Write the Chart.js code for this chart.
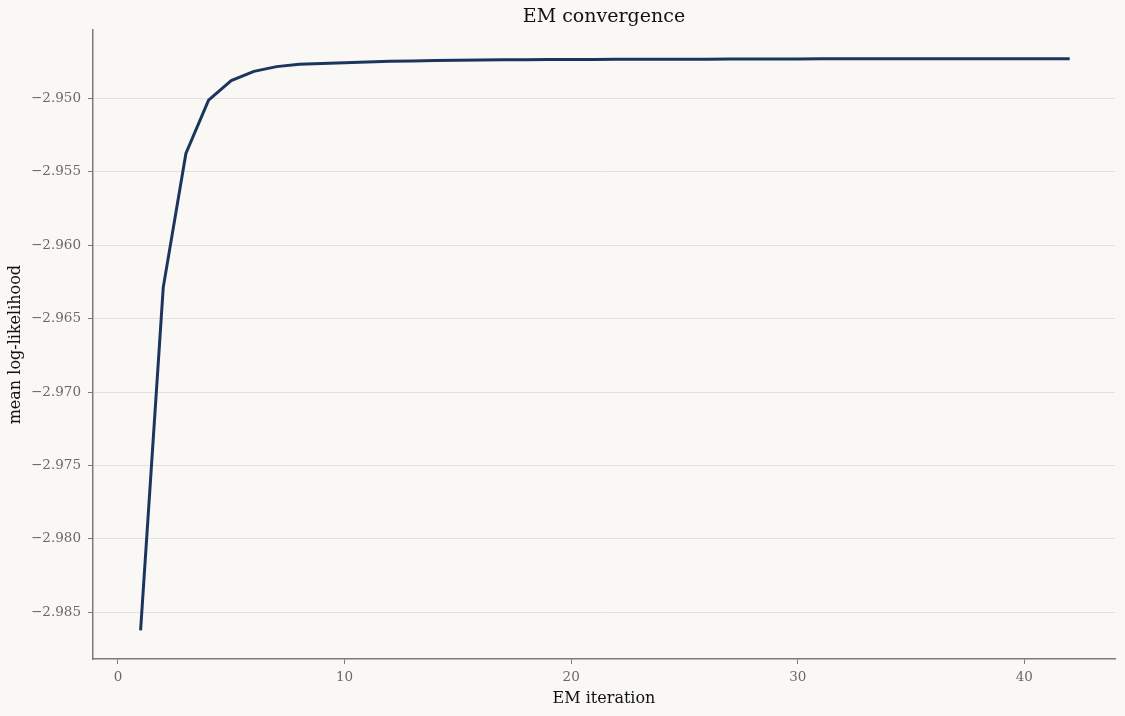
<!DOCTYPE html>
<html>
<head>
<meta charset="utf-8">
<script src="https://cdn.jsdelivr.net/npm/chart.js@4"></script>
<style>
  html, body { margin: 0; padding: 0; background: #f9f8f5; }
  #wrap { width: 1125px; height: 716px; }
</style>
</head>
<body>
<div id="wrap"><canvas id="chart" width="1125" height="716"></canvas></div>
<script>
// EM iterations and mean log-likelihood
const iterations = [1, 2, 3, 4, 5, 6, 7, 8, 9, 10, 11, 12, 13, 14, 15, 16, 17, 18, 19, 20, 21,
  22, 23, 24, 25, 26, 27, 28, 29, 30, 31, 32, 33, 34, 35, 36, 37, 38, 39, 40, 41, 42];
const logLik = [-2.98623, -2.96287, -2.95375, -2.95012, -2.94879, -2.94816, -2.94784, -2.94768,
  -2.94762, -2.94757, -2.94752, -2.94748, -2.94745, -2.94742, -2.94740, -2.94739, -2.94738,
  -2.94737, -2.94736, -2.94735, -2.94735, -2.94734, -2.94734, -2.94733, -2.94733, -2.94733,
  -2.94732, -2.94732, -2.94732, -2.94732, -2.94731, -2.94731, -2.94731, -2.94731, -2.94731,
  -2.94731, -2.94731, -2.94731, -2.94731, -2.94731, -2.94731, -2.94731];
const yTicks = [-2.985, -2.980, -2.975, -2.970, -2.965, -2.960, -2.955, -2.950];
const xTicks = [0, 10, 20, 30, 40];

const SERIF = "'DejaVu Serif', serif";
const spine = '#7d7b78';

function fixTicks(values) {
  return function (scale) {
    scale.ticks = values.map(v => ({ value: v }));
  };
}

const ctx = document.getElementById('chart');
new Chart(ctx, {
  type: 'line',
  data: {
    datasets: [{
      data: iterations.map((x, i) => ({ x: x, y: logLik[i] })),
      borderColor: '#1c355e',
      borderWidth: 3,
      pointRadius: 0,
      tension: 0,
      fill: false,
    }]
  },
  options: {
    responsive: false,
    animation: false,
    devicePixelRatio: 1,
    layout: { padding: { left: 0, right: 10, top: 0, bottom: 0 } },
    plugins: {
      legend: { display: false },
      tooltip: { enabled: false },
      title: {
        display: true,
        text: 'EM convergence',
        fullSize: false,
        color: '#111',
        font: { family: SERIF, size: 19, weight: 'normal', lineHeight: 1.2 },
        padding: { top: 6, bottom: 1.4 },
      },
    },
    scales: {
      x: {
        type: 'linear',
        min: -1.1,
        max: 44.0,
        afterBuildTicks: fixTicks(xTicks),
        afterFit: s => { s.height = 57; },
        grid: { drawOnChartArea: false, tickColor: spine, tickLength: 5, tickWidth: 1 },
        border: { color: spine, width: 1.5 },
        ticks: {
          color: '#6b6966',
          padding: 5,
          maxRotation: 0,
          font: { family: SERIF, size: 13.5 },
        },
        title: {
          display: true,
          text: 'EM iteration',
          color: '#111',
          padding: { top: 0, bottom: 8 },
          font: { family: SERIF, size: 16 },
        },
      },
      y: {
        type: 'linear',
        min: -2.98818,
        max: -2.94536,
        afterBuildTicks: fixTicks(yTicks),
        afterFit: s => { s.width = 93; },
        grid: { color: '#e4e2de', lineWidth: 1, tickColor: spine, tickLength: 5 },
        border: { color: spine, width: 1.5 },
        ticks: {
          color: '#6b6966',
          padding: 7,
          font: { family: SERIF, size: 13.5 },
          callback: v => '\u2212' + Math.abs(v).toFixed(3),
        },
        title: {
          display: true,
          text: 'mean log-likelihood',
          color: '#111',
          padding: { top: 6, bottom: 0 },
          font: { family: SERIF, size: 16 },
        },
      },
    },
  },
  plugins: [{
    id: 'bg',
    beforeDraw(chart) {
      const c = chart.ctx;
      c.save();
      c.fillStyle = '#f9f8f5';
      c.fillRect(0, 0, chart.width, chart.height);
      c.restore();
    }
  }],
});
</script>
</body>
</html>
